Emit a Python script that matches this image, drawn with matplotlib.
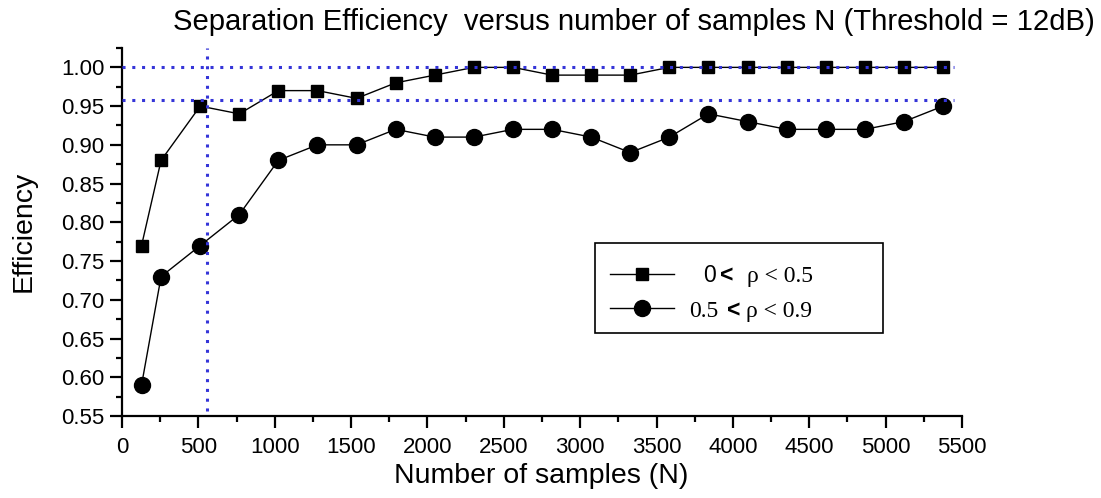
import matplotlib
matplotlib.use("Agg")
import matplotlib.pyplot as plt
from matplotlib.lines import Line2D
from matplotlib.patches import Rectangle
from matplotlib.ticker import MultipleLocator

plt.rcParams['font.family'] = ['Liberation Sans', 'DejaVu Sans']
SERIF = ['Liberation Serif', 'DejaVu Serif']

# sample counts (N)
n_samples = [128, 256, 512, 768, 1024, 1280, 1536, 1792, 2048, 2304, 2560,
             2816, 3072, 3328, 3584, 3840, 4096, 4352, 4608, 4864, 5120, 5376]
eff_low_rho = [0.77, 0.88, 0.95, 0.94, 0.97, 0.97, 0.96, 0.98, 0.99, 1.00, 1.00,
               0.99, 0.99, 0.99, 1.00, 1.00, 1.00, 1.00, 1.00, 1.00, 1.00, 1.00]
eff_high_rho = [0.59, 0.73, 0.77, 0.81, 0.88, 0.90, 0.90, 0.92, 0.91, 0.91, 0.92,
                0.92, 0.91, 0.89, 0.91, 0.94, 0.93, 0.92, 0.92, 0.92, 0.93, 0.95]
ref_levels = [1.0, 0.958]
ref_n = 555

W, H = 1101, 498
fig = plt.figure(figsize=(W / 100, H / 100), dpi=100)
ax = fig.add_axes([122 / W, 1 - 416 / H, 840 / W, 368 / H])

def fx(px):
    return px / W

def fy(py):
    return 1 - py / H

blue = '#3535d8'
for lvl in ref_levels:
    ax.plot([0, 5450], [lvl, lvl], color=blue, linestyle=(0, (1, 2.2)), lw=2.2, zorder=3)
ax.plot([ref_n, ref_n], [0.557, 1.025], color=blue, linestyle=(0, (1, 2.2)), lw=2.2, zorder=3)

ax.plot(n_samples, eff_low_rho, color='black', lw=1, marker='s', ms=9, zorder=2)
ax.plot(n_samples, eff_high_rho, color='black', lw=1, marker='o', ms=11.5, zorder=2)

ax.set_xlim(0, 5500)
ax.set_ylim(0.55, 1.025)
ax.xaxis.set_major_locator(MultipleLocator(500))
ax.xaxis.set_minor_locator(MultipleLocator(250))
ax.yaxis.set_major_locator(MultipleLocator(0.05))
ax.yaxis.set_minor_locator(MultipleLocator(0.025))
ax.yaxis.set_major_formatter(plt.FormatStrFormatter('%.2f'))
ax.spines['top'].set_visible(False)
ax.spines['right'].set_visible(False)
ax.spines['left'].set_linewidth(1.6)
ax.spines['bottom'].set_linewidth(1.6)
ax.tick_params(which='major', direction='out', length=8.5, width=1.6, labelsize=16, pad=4)
ax.tick_params(which='minor', direction='out', length=4.5, width=1.6)
ax.tick_params(axis='x', which='major', pad=6.5)

fig.text(fx(541), fy(483), 'Number of samples (N)', ha='center', va='baseline', fontsize=20.5)
fig.text(fx(24), fy(231), 'Efficiency', ha='center', va='center', rotation=90, fontsize=20.5)
fig.text(fx(1095), fy(30), 'Separation Efficiency  versus number of samples N (Threshold = 12dB)',
         ha='right', va='baseline', fontsize=21.1)

# legend drawn by hand (labels mix sans and serif fonts)
fig.add_artist(Rectangle((fx(595), fy(333)), fx(883) - fx(595), fy(243) - fy(333),
                         transform=fig.transFigure, fill=False, edgecolor='black', lw=1.2))
for py, mk, ms in [(274, 's', 9), (308, 'o', 11.5)]:
    fig.add_artist(Line2D([fx(610), fx(674)], [fy(py), fy(py)], color='black', lw=1,
                          transform=fig.transFigure))
    fig.add_artist(Line2D([fx(642)], [fy(py)], color='black', marker=mk, ms=ms,
                          transform=fig.transFigure))

fig.text(fx(703), fy(282), '0', fontsize=16.5, va='baseline')
fig.text(fx(720), fy(282), '<', fontsize=16.5, va='baseline', fontweight='bold')
fig.text(fx(747), fy(282), 'ρ < 0.5', fontsize=17, va='baseline', family=SERIF)
fig.text(fx(689), fy(317), '0.5', fontsize=17, va='baseline', family=SERIF)
fig.text(fx(727), fy(317), '<', fontsize=16.5, va='baseline', fontweight='bold')
fig.text(fx(746), fy(317), 'ρ < 0.9', fontsize=17, va='baseline', family=SERIF)

fig.savefig('out.png', dpi=100)
